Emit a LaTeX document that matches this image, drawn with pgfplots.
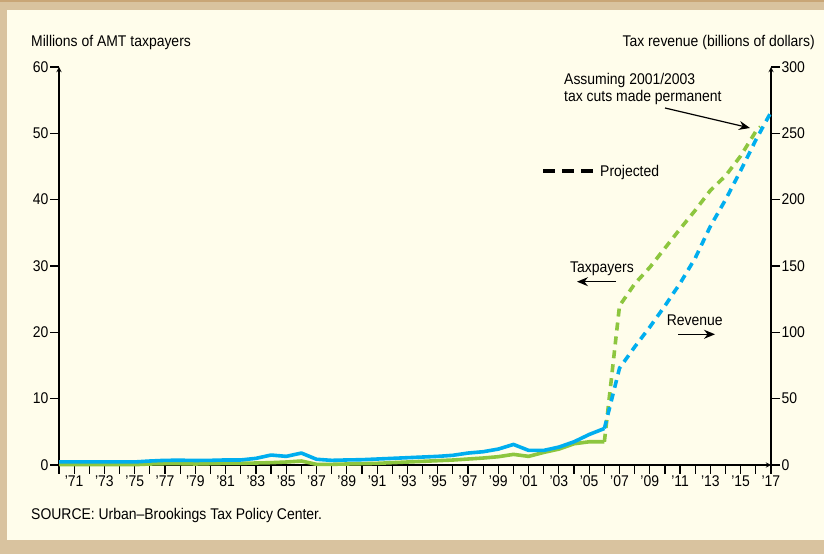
\documentclass[border=0pt]{standalone}
\usepackage{fontspec}
\setmainfont[FakeStretch=0.9]{Liberation Sans}
\usepackage{pgfplots}
\pgfplotsset{compat=1.18}
\usetikzlibrary{arrows.meta}
\definecolor{tanbg}{HTML}{D9C39F}
\definecolor{tanline}{HTML}{C9A677}
\definecolor{cream}{HTML}{FFFDEB}
\definecolor{tgreen}{HTML}{8DC63F}
\definecolor{tblue}{HTML}{00AEEF}
\newcommand\f{\fontsize{15.5bp}{18bp}\selectfont}

\pgfplotstableread{
year val
1970 0.05
1971 0.05
1972 0.05
1973 0.05
1974 0.05
1975 0.05
1976 0.15
1977 0.2
1978 0.2
1979 0.15
1980 0.2
1981 0.25
1982 0.25
1983 0.3
1984 0.35
1985 0.45
1986 0.6
1987 0.1
1988 0.1
1989 0.15
1990 0.2
1991 0.25
1992 0.35
1993 0.45
1994 0.55
1995 0.65
1996 0.75
1997 0.9
1998 1.05
1999 1.25
2000 1.6
2001 1.3
2002 1.9
2003 2.4
2004 3.2
2005 3.5
2006 3.5
}\taxsolid

\pgfplotstableread{
year val
2006 3.5
2007 24.0
2008 27.3
2009 29.8
2010 32.7
2011 35.6
2012 38.4
2013 41.4
2014 43.6
2015 46.6
2016 50.3
2016.3 51.0
}\taxproj

\pgfplotstableread{
year val
1970 2.3
1971 2.3
1972 2.3
1973 2.3
1974 2.3
1975 2.3
1976 3.0
1977 3.5
1978 3.6
1979 3.4
1980 3.5
1981 3.8
1982 3.8
1983 5.0
1984 7.5
1985 6.5
1986 9.0
1987 4.3
1988 3.5
1989 3.8
1990 4.0
1991 4.5
1992 5.0
1993 5.5
1994 6.0
1995 6.5
1996 7.3
1997 9.0
1998 10.0
1999 12.0
2000 15.5
2001 11.0
2002 11.0
2003 13.5
2004 17.5
2005 23.0
2006 27.5
}\revsolid

\pgfplotstableread{
year val
2006 27.5
2007 73
2008 89
2009 104
2010 120
2011 137
2012 156
2013 180
2014 200
2015 222
2016 245
2017 266
}\revproj

\begin{document}
\begin{tikzpicture}[x=1bp,y=1bp]
\fill[tanbg] (0,0) rectangle (824,554);
\fill[cream] (7,14) rectangle (824,544);
\fill[tanline] (0,552) rectangle (824,554);

\pgfplotsset{
  common/.style={
    at={(59bp,89bp)}, anchor=south west,
    scale only axis, width=712bp, height=398bp,
    xmin=1970, xmax=2017, ymin=0,
    axis line style={-, line width=1.3bp, black},
    major tick length=9bp,
    tick style={line width=1.2bp, black},
    tick label style={font=\f},
    /pgf/number format/assume math mode=true,
    clip=false,
  }
}

\begin{axis}[common,
  ymax=60,
  axis x line=bottom, axis y line=left,
  tick align=outside,
  xtick={1970,...,2017},
  xticklabels={,’71,,’73,,’75,,’77,,’79,,’81,,’83,,’85,,’87,,’89,,’91,,’93,,’95,,’97,,’99,,’01,,’03,,’05,,’07,,’09,,’11,,’13,,’15,,’17},
  ytick={0,10,...,60},
  yticklabel style={inner sep=1.5bp},
  xticklabel style={inner sep=1.5bp},
]
\addplot[tgreen, line width=3.6bp, line join=round] table[x=year,y=val] {\taxsolid};
\addplot[tgreen, line width=3.6bp, dash pattern=on 8bp off 6bp] table[x=year,y=val] {\taxproj};
\end{axis}

\begin{axis}[common,
  ymax=300,
  axis x line=none, axis y line=right,
  tick align=outside,
  ytick={0,50,...,300},
  yticklabel style={inner sep=1.5bp},
]
\addplot[tblue, line width=3.6bp, line join=round] table[x=year,y=val] {\revsolid};
\addplot[tblue, line width=3.6bp, dash pattern=on 8bp off 6bp] table[x=year,y=val] {\revproj};
\end{axis}

\node[font=\f, anchor=base west, inner sep=0] at (31,507) {Millions of AMT taxpayers};
\node[font=\f, anchor=base east, inner sep=0] at (815,507) {Tax revenue (billions of dollars)};
\node[font=\f, anchor=base west, inner sep=0] at (31,34) {SOURCE: Urban–Brookings Tax Policy Center.};
\node[font=\f, anchor=base west, inner sep=0] at (564,469) {Assuming 2001/2003};
\node[font=\f, anchor=base west, inner sep=0] at (564,452) {tax cuts made permanent};
\draw[line width=1.2bp, -{Stealth[length=11bp,width=9bp]}] (665,446) -- (750,426);
\draw[line width=4bp, dash pattern=on 12bp off 7bp] (543,383) -- (593,383);
\node[font=\f, anchor=base west, inner sep=0] at (600,377.3) {Projected};
\node[font=\f, anchor=base west, inner sep=0] at (570,281.3) {Taxpayers};
\draw[line width=1.2bp, -{Stealth[length=11bp,width=9bp]}] (616,272.3) -- (577,272.3);
\node[font=\f, anchor=base west, inner sep=0] at (666.7,228.3) {Revenue};
\draw[line width=1.2bp, -{Stealth[length=11bp,width=9bp]}] (678,219.7) -- (715,219.7);

\pgfresetboundingbox
\path[use as bounding box] (0,0) rectangle (824,554);
\end{tikzpicture}
\end{document}
